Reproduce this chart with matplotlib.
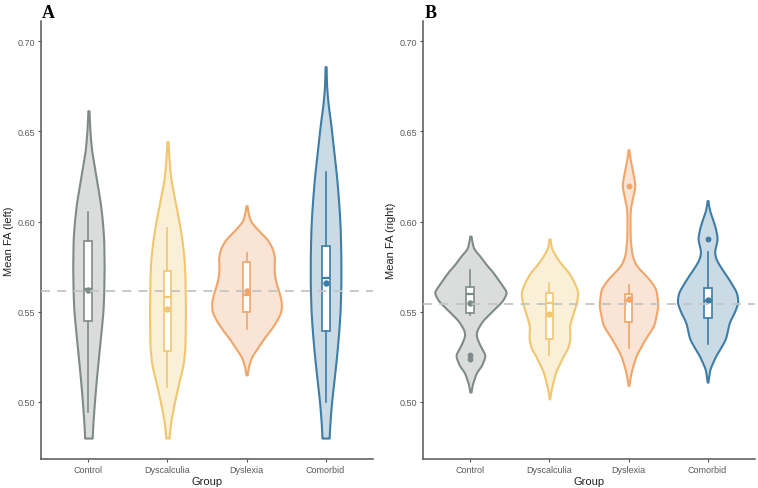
import numpy as np
import matplotlib
matplotlib.use("Agg")
import matplotlib.pyplot as plt

groups = ["Control", "Dyscalculia", "Dyslexia", "Comorbid"]
edge_colors = ["#7E8B8A", "#F1C66F", "#F0A569", "#3D7DA6"]
fill_colors = ["#DADDDC", "#FAEFD7", "#FAE4D5", "#CBDBE5"]

# ---- Panel A (left) : violin density profiles (value, relative half-width) ----
A_ctrl_y = [0.6614, 0.650, 0.640, 0.630, 0.620, 0.610, 0.600, 0.590, 0.575, 0.560, 0.550, 0.540, 0.530, 0.520, 0.510, 0.500, 0.490, 0.480]
A_ctrl_w = [0.5, 1.5, 3, 6, 9, 12, 14, 15.3, 15.7, 15.3, 14.5, 12.8, 11, 9.2, 7.5, 6, 4.7, 3.7]
A_dysc_y = [0.6443, 0.635, 0.625, 0.620, 0.610, 0.600, 0.590, 0.580, 0.570, 0.550, 0.530, 0.520, 0.510, 0.500, 0.490, 0.480]
A_dysc_w = [0.5, 1.5, 3, 4.5, 8, 11.5, 14.5, 16.5, 17.5, 18, 17.5, 15.5, 11, 7, 3.5, 1.5]
A_dysl_y = [0.6088, 0.605, 0.600, 0.595, 0.590, 0.585, 0.580, 0.575, 0.570, 0.565, 0.560, 0.555, 0.550, 0.545, 0.540, 0.535, 0.530, 0.525, 0.520, 0.515]
A_dysl_w = [0.5, 1.5, 4, 12, 21, 26, 28, 27.5, 28, 30, 33, 35, 34.5, 30, 24, 17, 11, 5, 2, 0.5]
A_como_y = [0.6858, 0.675, 0.665, 0.655, 0.645, 0.635, 0.625, 0.615, 0.605, 0.595, 0.580, 0.565, 0.550, 0.540, 0.530, 0.520, 0.510, 0.500, 0.490, 0.480]
A_como_w = [0.5, 1, 2.5, 5, 7, 9, 11, 12.5, 13.8, 14.7, 15.3, 15.3, 14.5, 13.3, 11.8, 10, 8, 6, 4.5, 3.5]

# box stats panel A: q1, median, q3, whisker low, whisker high, mean
A_q1 = [0.5450, 0.5285, 0.5501, 0.5396]
A_med = [0.5627, 0.5581, 0.5594, 0.5686]
A_q3 = [0.5894, 0.5725, 0.5778, 0.5867]
A_wlo = [0.4947, 0.5083, 0.5405, 0.5000]
A_whi = [0.6053, 0.5963, 0.5826, 0.6277]
A_mean = [0.5620, 0.5516, 0.5617, 0.5660]
A_out = [[], [], [], []]
A_ref = 0.5614

# ---- Panel B (right) ----
B_ctrl_y = [0.5919, 0.585, 0.5812, 0.576, 0.5719, 0.566, 0.5608, 0.556, 0.550, 0.545, 0.540, 0.5368, 0.532, 0.5258, 0.520, 0.5165, 0.510, 0.5055]
B_ctrl_w = [0.5, 3, 9, 16, 22.5, 30, 36.5, 32, 21, 12, 6.5, 5.5, 9, 15, 11, 6, 2, 0.5]
B_dysc_y = [0.5903, 0.585, 0.5793, 0.5756, 0.5719, 0.566, 0.5608, 0.555, 0.5498, 0.5424, 0.535, 0.530, 0.5258, 0.520, 0.5165, 0.510, 0.505, 0.5017]
B_dysc_w = [0.5, 2, 8, 13, 19, 25, 28.5, 27, 24, 20, 20.5, 18.5, 14, 9, 6, 3, 1, 0.3]
B_dysl_y = [0.6398, 0.635, 0.628, 0.620, 0.613, 0.607, 0.600, 0.590, 0.5811, 0.5756, 0.5719, 0.5682, 0.5627, 0.5534, 0.5424, 0.535, 0.5258, 0.5165, 0.5092]
B_dysl_w = [0.3, 1.5, 4, 6.7, 4, 1.7, 1.5, 1.7, 3.5, 7.5, 14, 20.5, 27.5, 29.5, 25.5, 16.7, 7.5, 2.5, 0.3]
B_como_y = [0.6116, 0.606, 0.6014, 0.596, 0.5904, 0.585, 0.583, 0.579, 0.5756, 0.5682, 0.5608, 0.5553, 0.550, 0.5442, 0.540, 0.535, 0.530, 0.5258, 0.5184, 0.511]
B_como_w = [0.3, 2, 5, 8, 9.8, 7.5, 6.7, 8.5, 12, 21, 29, 30.5, 27, 21.7, 20, 18, 13, 8.3, 2.3, 0.3]

B_q1 = [0.5494, 0.5350, 0.5443, 0.5465]
B_med = [0.5599, 0.5548, 0.5562, 0.5562]
B_q3 = [0.5636, 0.5603, 0.5599, 0.5630]
B_wlo = [0.5483, 0.5258, 0.5299, 0.5323]
B_whi = [0.5734, 0.5658, 0.5649, 0.5830]
B_mean = [0.5548, 0.5485, 0.5571, 0.5565]
B_out = [[0.5258, 0.5236], [], [0.6199], [0.5904]]
B_ref = 0.5544

WIDTH_SCALE = 1.0 / 79.0

yticks = [0.50, 0.55, 0.60, 0.65, 0.70]
ytick_labels = ["0.50", "0.55", "0.60", "0.65", "0.70"]

plt.rcParams["font.family"] = ["Liberation Sans", "DejaVu Sans"]

fig = plt.figure(figsize=(7.58, 4.89), dpi=100)
axA = fig.add_axes([41 / 758, 1 - 460 / 489, 332 / 758, 438 / 489])
axB = fig.add_axes([423 / 758, 1 - 460 / 489, 332 / 758, 438 / 489])


def smooth_profile(ys, ws):
    ys = np.asarray(ys)[::-1]
    ws = np.asarray(ws)[::-1]
    grid = np.linspace(ys[0], ys[-1], 400)
    w = np.interp(grid, ys, ws)
    k = np.exp(-0.5 * (np.arange(-12, 13) / 5.0) ** 2)
    k /= k.sum()
    pad = np.concatenate([np.full(12, w[0]), w, np.full(12, w[-1])])
    ws2 = np.convolve(pad, k, mode="valid")
    return grid, ws2


def draw_panel(ax, profiles, q1, med, q3, wlo, whi, mean, outs, ref, ylabel, letter):
    for i, (py, pw) in enumerate(profiles):
        g, w = smooth_profile(py, pw)
        w = w * WIDTH_SCALE
        ax.fill_betweenx(g, i - w, i + w, facecolor=fill_colors[i],
                         edgecolor=edge_colors[i], linewidth=1.5, zorder=2)
    stats = []
    for i in range(4):
        stats.append(dict(med=med[i], q1=q1[i], q3=q3[i], whislo=wlo[i],
                          whishi=whi[i], fliers=outs[i], mean=mean[i]))
    for i in range(4):
        ax.bxp([stats[i]], positions=[i], widths=0.1, patch_artist=True,
               showcaps=False, showfliers=True, showmeans=False,
               boxprops=dict(facecolor="white", edgecolor=edge_colors[i], linewidth=1.2),
               whiskerprops=dict(color=edge_colors[i], linewidth=1.2),
               medianprops=dict(color=edge_colors[i], linewidth=1.6),
               flierprops=dict(marker="o", markersize=3.2, markerfacecolor=edge_colors[i],
                               markeredgecolor=edge_colors[i]),
               zorder=3, manage_ticks=False)
        ax.plot([i], [mean[i]], "o", color=edge_colors[i], markersize=3.6, zorder=4)
    ax.axhline(ref, color="#C4C4C4", linestyle=(0, (5, 4)), linewidth=1.3, zorder=5)

    ax.set_xlim(-0.6, 3.6)
    ax.set_ylim(0.4684, 0.7111)
    ax.set_xticks(range(4))
    ax.set_xticklabels(groups)
    ax.set_yticks(yticks)
    ax.set_yticklabels(ytick_labels)
    ax.tick_params(axis="both", labelsize=6.5, colors="#555555", length=2.5, width=0.8,
                   labelcolor="#5A5A5A", pad=2)
    for s in ["top", "right"]:
        ax.spines[s].set_visible(False)
    for s in ["left", "bottom"]:
        ax.spines[s].set_color("#555555")
        ax.spines[s].set_linewidth(1.1)
    ax.set_xlabel("Group", fontsize=8, color="#222222", labelpad=1)
    ax.set_ylabel(ylabel, fontsize=8, color="#222222", labelpad=2)
    ax.text(0.004, 1.0, letter, transform=ax.transAxes, fontsize=13, fontweight="bold",
            family="Liberation Serif", ha="left", va="bottom", color="black")


draw_panel(axA, [(A_ctrl_y, A_ctrl_w), (A_dysc_y, A_dysc_w), (A_dysl_y, A_dysl_w), (A_como_y, A_como_w)],
           A_q1, A_med, A_q3, A_wlo, A_whi, A_mean, A_out, A_ref, "Mean FA (left)", "A")
draw_panel(axB, [(B_ctrl_y, B_ctrl_w), (B_dysc_y, B_dysc_w), (B_dysl_y, B_dysl_w), (B_como_y, B_como_w)],
           B_q1, B_med, B_q3, B_wlo, B_whi, B_mean, B_out, B_ref, "Mean FA (right)", "B")

fig.savefig("out.png", dpi=100)
